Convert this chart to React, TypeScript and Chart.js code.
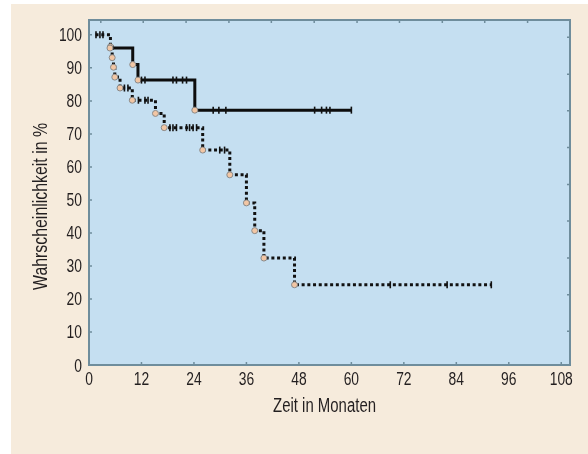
import React, { useEffect, useRef } from "react";
import { Chart, registerables } from "chart.js";

Chart.register(...registerables);

// ---- data ----
const xTickValues = [0, 12, 24, 36, 48, 60, 72, 84, 96, 108];
const yTickValues = [0, 10, 20, 30, 40, 50, 60, 70, 80, 90, 100];
const topTickMonths = [2.7, 12.4, 22.2, 32.0, 41.7, 51.5, 61.3, 71.0, 80.8, 90.5, 100.3];
const rightTickPct = [99.3, 88.1, 77.0, 65.9, 54.7, 43.6, 32.4, 21.3, 10.2];

// solid curve (Kaplan-Meier steps)
const solidTimes = [4.8, 10.0, 11.2, 24.2, 60.0];
const solidSurv = [96.0, 91.0, 86.3, 77.2, 77.2];
const solidCensorTimes = [12.0, 12.8, 19.2, 20.0, 21.4, 22.3, 28.4, 29.7, 31.3, 51.6, 53.2, 54.3, 55.1, 60.0];
const solidCensorSurv = [86.3, 86.3, 86.3, 86.3, 86.3, 86.3, 77.2, 77.2, 77.2, 77.2, 77.2, 77.2, 77.2, 77.2];

// dotted curve
const dottedTimes = [1.5, 4.9, 5.3, 5.6, 5.9, 7.1, 9.9, 15.2, 17.2, 26.0, 32.2, 36.0, 37.9, 40.0, 47.0, 92.0];
const dottedSurv = [100, 96.4, 93.1, 90.2, 87.2, 83.9, 80.2, 76.2, 71.9, 65.1, 57.6, 49.1, 40.7, 32.4, 24.3, 24.3];
const dottedCensorTimes = [1.6, 2.5, 3.2, 8.1, 8.9, 11.3, 12.8, 13.5, 18.5, 19.2, 20.0, 22.3, 23.0, 23.8, 24.6, 29.9, 31.0, 68.9, 81.9, 92.0];
const dottedCensorSurv = [100, 100, 100, 83.9, 83.9, 80.2, 80.2, 80.2, 71.9, 71.9, 71.9, 71.9, 71.9, 71.9, 71.9, 65.1, 65.1, 24.3, 24.3, 24.3];

const xTitle = "Zeit in Monaten";
const yTitle = "Wahrscheinlichkeit in %";

// ---- styles ----
const FONT = "'Liberation Sans', Arial, sans-serif";
const TEXT = "#231f20";
const PAGE_BG = "#f6ebdc";
const PLOT_BG = "#c5dff1";
const FRAME = "#6f8d9c";
const CIRCLE_FILL = "#f2c6a4";
const CIRCLE_BORDER = "#8a8a8a";
const TICK_FONT_SIZE = 18;
const TICK_SQUEEZE = 0.77;
const TITLE_FONT_SIZE = 19.5;
const X_TITLE_WIDTH = 103;
const Y_TITLE_WIDTH = 167;

const toPts = (xs: number[], ys: number[]) => xs.map((x, i) => ({ x, y: ys[i] }));

function drawSqueezed(ctx: CanvasRenderingContext2D, text: string, x: number, y: number, sx: number, align: CanvasTextAlign) {
  ctx.save();
  ctx.translate(x, y);
  ctx.scale(sx, 1);
  ctx.textAlign = align;
  ctx.fillText(text, 0, 0);
  ctx.restore();
}

const decorPlugin = {
  id: "decor",
  beforeDatasetsDraw(chart: any) {
    const { ctx, chartArea: a } = chart;
    ctx.save();
    ctx.fillStyle = PLOT_BG;
    ctx.fillRect(a.left, a.top, a.right - a.left, a.bottom - a.top);
    ctx.restore();
  },
  afterDraw(chart: any) {
    const { ctx, chartArea: a, scales } = chart;
    const xs = scales.x;
    const ys = scales.y;
    ctx.save();
    // small inward ticks
    ctx.strokeStyle = FRAME;
    ctx.lineWidth = 1.5;
    const L = 3;
    ctx.beginPath();
    xTickValues.forEach((v) => {
      const px = xs.getPixelForValue(v);
      ctx.moveTo(px, a.bottom);
      ctx.lineTo(px, a.bottom - L);
    });
    topTickMonths.forEach((v) => {
      const px = xs.getPixelForValue(v);
      ctx.moveTo(px, a.top);
      ctx.lineTo(px, a.top + L);
    });
    yTickValues.forEach((v) => {
      const py = ys.getPixelForValue(v);
      ctx.moveTo(a.left, py);
      ctx.lineTo(a.left + L, py);
    });
    rightTickPct.forEach((v) => {
      const py = ys.getPixelForValue(v);
      ctx.moveTo(a.right, py);
      ctx.lineTo(a.right - L, py);
    });
    ctx.stroke();
    // frame
    ctx.lineWidth = 2;
    ctx.strokeRect(a.left, a.top, a.right - a.left, a.bottom - a.top);

    // tick labels (condensed)
    ctx.fillStyle = TEXT;
    ctx.textBaseline = "alphabetic";
    ctx.font = `${TICK_FONT_SIZE}px ${FONT}`;
    xTickValues.forEach((v) => {
      drawSqueezed(ctx, String(v), xs.getPixelForValue(v), a.bottom + 20, TICK_SQUEEZE, "center");
    });
    yTickValues.forEach((v) => {
      drawSqueezed(ctx, String(v), a.left - 7, ys.getPixelForValue(v) + 6.5, TICK_SQUEEZE, "right");
    });

    // axis titles
    ctx.font = `${TITLE_FONT_SIZE}px ${FONT}`;
    const xw = ctx.measureText(xTitle).width;
    drawSqueezed(ctx, xTitle, (a.left + a.right) / 2 - 5, a.bottom + 47, X_TITLE_WIDTH / xw, "center");
    const yw = ctx.measureText(yTitle).width;
    ctx.save();
    ctx.translate(a.left - 42, (a.top + a.bottom) / 2 + 14);
    ctx.rotate(-Math.PI / 2);
    drawSqueezed(ctx, yTitle, 0, 0, Y_TITLE_WIDTH / yw, "center");
    ctx.restore();
    ctx.restore();
  },
};

export default function App() {
  const canvasRef = useRef<HTMLCanvasElement | null>(null);

  useEffect(() => {
    if (!canvasRef.current) return;
    const chart = new Chart(canvasRef.current, {
      type: "line",
      data: {
        datasets: [
          {
            label: "censor solid",
            data: toPts(solidCensorTimes, solidCensorSurv),
            showLine: false,
            pointStyle: "line",
            rotation: 90,
            pointRadius: 3.5,
            pointBorderWidth: 1.6,
            pointBorderColor: "#111",
            order: 0,
          },
          {
            label: "censor dotted",
            data: toPts(dottedCensorTimes, dottedCensorSurv),
            showLine: false,
            pointStyle: "line",
            rotation: 90,
            pointRadius: 3.5,
            pointBorderWidth: 1.6,
            pointBorderColor: "#111",
            order: 1,
          },
          {
            label: "solid",
            data: toPts(solidTimes, solidSurv),
            stepped: true,
            borderColor: "#0d0d0d",
            borderWidth: 3,
            fill: false,
            pointRadius: solidTimes.map((_, i) => (i === solidTimes.length - 1 ? 0 : 3)),
            pointBackgroundColor: CIRCLE_FILL,
            pointBorderColor: CIRCLE_BORDER,
            pointBorderWidth: 1,
            order: 2,
          },
          {
            label: "dotted",
            data: toPts(dottedTimes, dottedSurv),
            stepped: true,
            borderColor: "#111",
            borderWidth: 3,
            borderDash: [3, 2.7],
            borderCapStyle: "butt",
            fill: false,
            pointRadius: dottedTimes.map((_, i) => (i === 0 || i === dottedTimes.length - 1 ? 0 : 3)),
            pointBackgroundColor: CIRCLE_FILL,
            pointBorderColor: CIRCLE_BORDER,
            pointBorderWidth: 1,
            order: 3,
          },
        ],
      },
      options: {
        responsive: false,
        animation: false,
        layout: { padding: { left: 0, top: 16, right: 18, bottom: 0 } },
        plugins: {
          legend: { display: false },
          tooltip: { enabled: false },
          title: { display: false },
        },
        scales: {
          x: {
            type: "linear",
            min: 0,
            max: 110,
            grid: { display: false, drawTicks: false },
            border: { display: false },
            ticks: { display: false, stepSize: 12 },
            afterBuildTicks: (scale: any) => {
              scale.ticks = xTickValues.map((v) => ({ value: v }));
            },
            afterFit: (scale: any) => {
              scale.height = 89;
            },
          },
          y: {
            type: "linear",
            min: 0,
            max: 104.5,
            grid: { display: false, drawTicks: false },
            border: { display: false },
            ticks: { display: false, stepSize: 10 },
            afterBuildTicks: (scale: any) => {
              scale.ticks = yTickValues.map((v) => ({ value: v }));
            },
            afterFit: (scale: any) => {
              scale.width = 78;
            },
          },
        },
      },
      plugins: [decorPlugin],
    });
    return () => chart.destroy();
  }, []);

  return (
    <div
      style={{
        position: "absolute",
        left: 11,
        top: 4,
        width: 577,
        height: 450,
        background: PAGE_BG,
      }}
    >
      <canvas ref={canvasRef} width={577} height={450} style={{ display: "block" }} />
    </div>
  );
}
